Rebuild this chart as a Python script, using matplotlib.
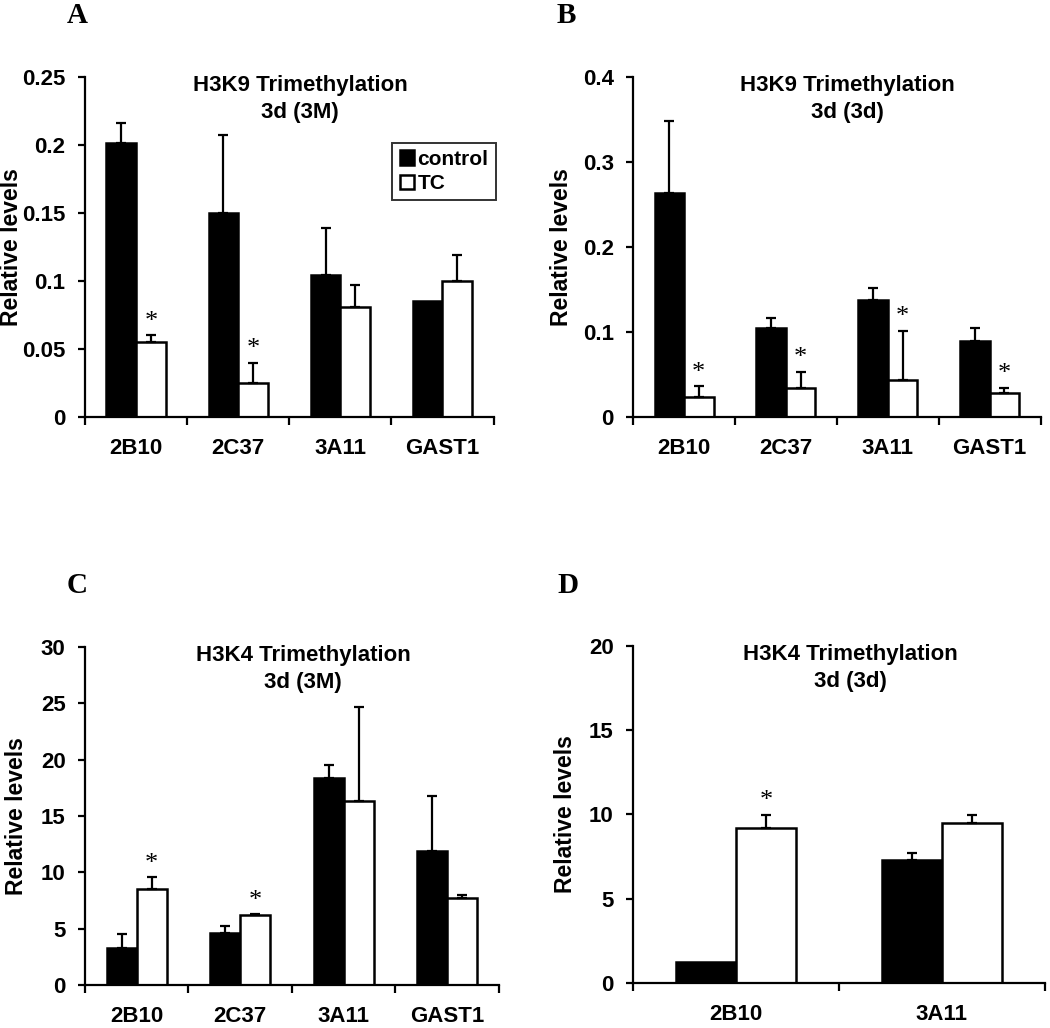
import numpy as np
import matplotlib
matplotlib.use('Agg')
import matplotlib.pyplot as plt

plt.rcParams['font.family'] = ['Liberation Sans', 'DejaVu Sans']
plt.rcParams['font.weight'] = 'bold'

# 数据
genes4 = ['2B10', '2C37', '3A11', 'GAST1']
genes2 = ['2B10', '3A11']

a_ctrl = [0.201, 0.150, 0.104, 0.085]
a_ctrl_err = [0.015, 0.057, 0.035, 0.0]
a_tc = [0.055, 0.025, 0.081, 0.100]
a_tc_err = [0.005, 0.015, 0.016, 0.019]
a_star = [True, True, False, False]

b_ctrl = [0.263, 0.105, 0.138, 0.089]
b_ctrl_err = [0.085, 0.011, 0.014, 0.016]
b_tc = [0.024, 0.034, 0.043, 0.028]
b_tc_err = [0.012, 0.019, 0.058, 0.006]
b_star = [True, True, True, True]

c_ctrl = [3.25, 4.6, 18.4, 11.9]
c_ctrl_err = [1.3, 0.6, 1.1, 4.9]
c_tc = [8.5, 6.2, 16.35, 7.7]
c_tc_err = [1.05, 0.07, 8.3, 0.3]
c_star = [True, True, False, False]

d_ctrl = [1.24, 7.3]
d_ctrl_err = [0.0, 0.4]
d_tc = [9.2, 9.5]
d_tc_err = [0.75, 0.45]
d_star = [True, False]


def draw_panel(ax, genes, ctrl, ctrl_err, tc, tc_err, stars, ymax, ystep,
               yfmt, title, letter, label_x, legend=False):
    x = np.arange(len(genes))
    w = 0.29
    ax.bar(x - w / 2, ctrl, w, color='black', edgecolor='black',
           linewidth=1.8, label='control', zorder=2)
    ax.bar(x + w / 2, tc, w, color='white', edgecolor='black',
           linewidth=1.8, label='TC', zorder=2)

    # 只画上方误差线
    for xs, vals, errs in [(x - w / 2, ctrl, ctrl_err), (x + w / 2, tc, tc_err)]:
        for xi, v, e in zip(xs, vals, errs):
            if e > 0:
                ax.errorbar(xi, v, yerr=[[0], [e]], fmt='none', ecolor='black',
                            elinewidth=1.6, capsize=3.5, capthick=1.6, zorder=3)

    # 星号
    for xi, v, e, s in zip(x + w / 2, tc, tc_err, stars):
        if s:
            ax.annotate('*', (xi, v + e), xytext=(0, 2), textcoords='offset points',
                        ha='center', va='bottom', fontsize=19,
                        family='Liberation Serif', fontweight='normal')

    ax.set_xlim(-0.5, len(genes) - 0.5)
    ax.set_ylim(0, ymax)
    ticks = np.arange(0, ymax + ystep / 2, ystep)
    ax.set_yticks(ticks)
    ax.set_yticklabels([yfmt(t) for t in ticks], fontsize=16, fontweight='bold')
    ax.tick_params(axis='y', direction='out', length=5, width=1.6, pad=9)

    # 分类边界刻度
    ax.set_xticks(np.arange(-0.5, len(genes), 1.0))
    ax.set_xticklabels([])
    ax.tick_params(axis='x', which='major', direction='out', length=6, width=1.6)
    ax.set_xticks(x, minor=True)
    ax.set_xticklabels(genes, minor=True, fontsize=16, fontweight='bold')
    ax.tick_params(axis='x', which='minor', length=0, pad=15)

    for sp in ['top', 'right']:
        ax.spines[sp].set_visible(False)
    for sp in ['left', 'bottom']:
        ax.spines[sp].set_linewidth(1.6)

    ax.set_ylabel('Relative levels', fontsize=16.5, fontweight='bold')
    ax.yaxis.set_label_coords(label_x, 0.5)

    ax.text(0.527, 1.005, title, transform=ax.transAxes, ha='center', va='top',
            fontsize=16, fontweight='bold', linespacing=1.35)
    ax.text(letter[1], letter[2], letter[0], transform=ax.figure.transFigure,
            ha='center', va='center', fontsize=21, fontweight='bold',
            family='Liberation Serif')

    if legend:
        leg = ax.legend(loc='upper right', bbox_to_anchor=(1.005, 0.806),
                        borderaxespad=0, fontsize=15, frameon=True,
                        fancybox=False, edgecolor='black', handlelength=0.7,
                        handleheight=0.7, handletextpad=0.15, borderpad=0.35,
                        labelspacing=0.25)
        leg.get_frame().set_linewidth(1.4)


def fmt_dec(t):
    return ('%.2f' % t).rstrip('0').rstrip('.') if t != 0 else '0'


def fmt_int(t):
    return '%d' % t


fig = plt.figure(figsize=(10.5, 10.28), dpi=100)

axA = fig.add_axes([0.081, 0.5944, 0.389, 0.331])
axB = fig.add_axes([0.603, 0.5944, 0.388, 0.331])
axC = fig.add_axes([0.081, 0.0418, 0.394, 0.329])
axD = fig.add_axes([0.603, 0.0438, 0.392, 0.328])

draw_panel(axA, genes4, a_ctrl, a_ctrl_err, a_tc, a_tc_err, a_star, 0.25, 0.05,
           fmt_dec, 'H3K9 Trimethylation\n3d (3M)', ('A', 0.074, 0.985), -0.153,
           legend=True)
draw_panel(axB, genes4, b_ctrl, b_ctrl_err, b_tc, b_tc_err, b_star, 0.4, 0.1,
           fmt_dec, 'H3K9 Trimethylation\n3d (3d)', ('B', 0.539, 0.985), -0.147)
draw_panel(axC, genes4, c_ctrl, c_ctrl_err, c_tc, c_tc_err, c_star, 30, 5,
           fmt_int, 'H3K4 Trimethylation\n3d (3M)', ('C', 0.073, 0.43), -0.138)
draw_panel(axD, genes2, d_ctrl, d_ctrl_err, d_tc, d_tc_err, d_star, 20, 5,
           fmt_int, 'H3K4 Trimethylation\n3d (3d)', ('D', 0.541, 0.43), -0.137)

plt.savefig('out.png', dpi=100)
